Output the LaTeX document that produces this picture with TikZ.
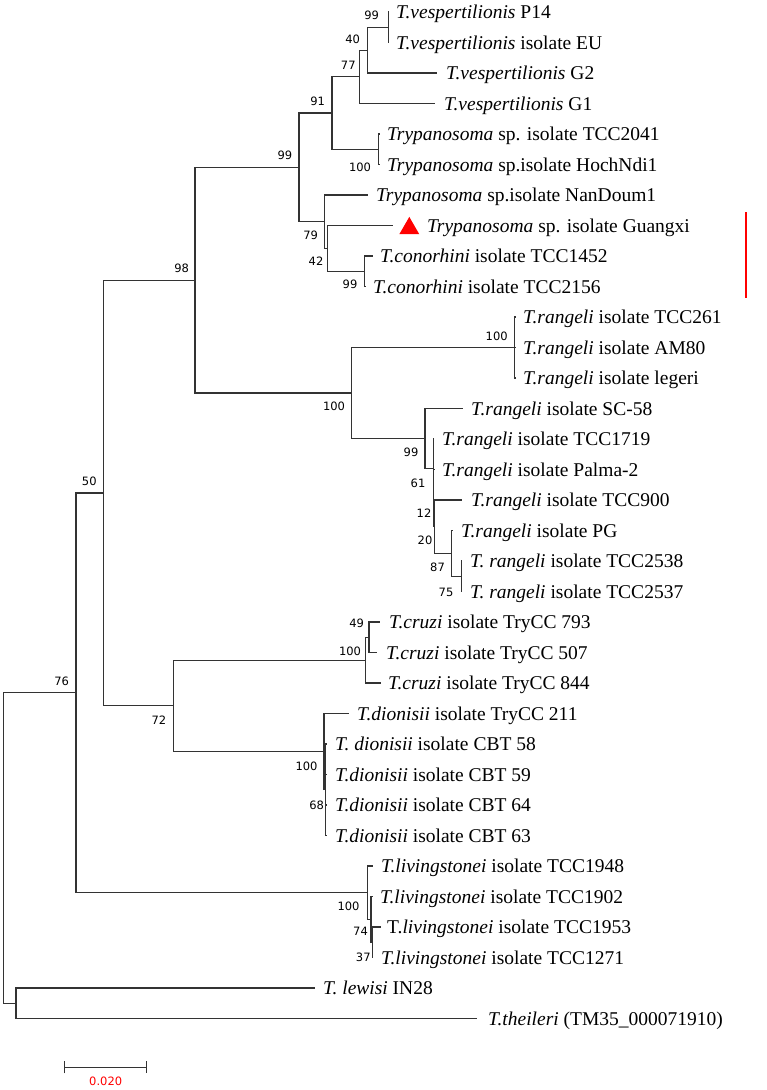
\documentclass[tikz,border=0pt]{standalone}
\usepackage{fontspec}
\setmainfont{Liberation Serif}
\newfontfamily\numfont{DejaVu Sans}
\usetikzlibrary{arrows.meta,shapes.geometric}
\begin{document}
\begin{tikzpicture}[x=1pt,y=-1pt,
  tree/.style={line width=1.2pt, draw=black!80},
  leafl/.style={anchor=base west, inner sep=0pt, yshift=-6.6pt, font=\fontsize{19.5}{22}\selectfont},
  bs/.style={inner sep=0pt, font=\numfont\fontsize{11.5}{13}\selectfont},
  redtri/.style={regular polygon, regular polygon sides=3, fill=red, draw=none, inner sep=0pt, minimum size=23pt}]
\useasboundingbox (0,0) rectangle (767,1090);
% ---- leaf ends ----
\coordinate (l1) at (389,12);
\coordinate (l2) at (389,42.5);
\coordinate (l3) at (436.7,73);
\coordinate (l4) at (435,103.5);
\coordinate (l5) at (380,134);
\coordinate (l6) at (380,164.5);
\coordinate (l7) at (368.3,195);
\coordinate (l8) at (393.3,225.5);
\coordinate (l9) at (372.7,256);
\coordinate (l10) at (365,286.5);
\coordinate (l11) at (515.5,317);
\coordinate (l12) at (515.5,347.5);
\coordinate (l13) at (515.5,378);
\coordinate (l14) at (463.3,408.5);
\coordinate (l15) at (434,439);
\coordinate (l16) at (434.3,469.5);
\coordinate (l17) at (461.7,500);
\coordinate (l18) at (452.5,530.5);
\coordinate (l19) at (462,561);
\coordinate (l20) at (462,591.5);
\coordinate (l21) at (380,622);
\coordinate (l22) at (376.7,652.5);
\coordinate (l23) at (381,683);
\coordinate (l24) at (349,713.5);
\coordinate (l25) at (326.5,744);
\coordinate (l26) at (326.5,774.5);
\coordinate (l27) at (326.5,805);
\coordinate (l28) at (326.5,835.5);
\coordinate (l29) at (373,866);
\coordinate (l30) at (373,896.5);
\coordinate (l31) at (381,927);
\coordinate (l32) at (373,957.5);
\coordinate (l33) at (315,988);
\coordinate (l34) at (476.7,1018.5);
% ---- internal nodes ----
\coordinate (n99a) at (388.3,27.25);
\coordinate (n40) at (367.3,50.13);
\coordinate (n77) at (359.3,76.81);
\coordinate (n100a) at (378.3,149.25);
\coordinate (n91) at (332,113.03);
\coordinate (n99c) at (364.5,271.25);
\coordinate (n42) at (327.3,248.38);
\coordinate (n79) at (324.3,221.69);
\coordinate (n99) at (299,167.36);
\coordinate (n100r) at (514.3,347.5);
\coordinate (n75) at (461.3,576.25);
\coordinate (n87) at (451.7,553.38);
\coordinate (n20) at (434.3,526.69);
\coordinate (n12) at (433.8,498.09);
\coordinate (n61) at (433.3,468.55);
\coordinate (n99d) at (425,438.52);
\coordinate (n100b) at (351.7,393.01);
\coordinate (n98) at (195,280.19);
\coordinate (n49) at (369,637.25);
\coordinate (n100c) at (365.7,660.13);
\coordinate (n68) at (325.7,789.75);
\coordinate (n100d) at (324,751.63);
\coordinate (n72) at (173.3,705.88);
\coordinate (n50) at (103.3,493.03);
\coordinate (n37) at (372.3,942.25);
\coordinate (n74) at (371,919.38);
\coordinate (n100e) at (367.7,892.69);
\coordinate (n76) at (76,692.86);
\coordinate (nlt) at (16,1003.25);
\coordinate (root) at (3.3,848.05);
% ---- branches ----
\draw[tree] (n99a) |- (l1);  \draw[tree] (n99a) |- (l2);
\draw[tree] (n40) |- (n99a); \draw[tree] (n40) |- (l3);
\draw[tree] (n77) |- (n40);  \draw[tree] (n77) |- (l4);
\draw[tree] (n100a) |- (l5); \draw[tree] (n100a) |- (l6);
\draw[tree] (n91) |- (n77);  \draw[tree] (n91) |- (n100a);
\draw[tree] (n99c) |- (l9);  \draw[tree] (n99c) |- (l10);
\draw[tree] (n42) |- (l8);   \draw[tree] (n42) |- (n99c);
\draw[tree] (n79) |- (l7);   \draw[tree] (n79) |- (n42);
\draw[tree] (n99) |- (n91);  \draw[tree] (n99) |- (n79);
\draw[tree] (n100r) |- (l11); \draw[tree] (n100r) |- (l12); \draw[tree] (n100r) |- (l13);
\draw[tree] (n75) |- (l19);  \draw[tree] (n75) |- (l20);
\draw[tree] (n87) |- (l18);  \draw[tree] (n87) |- (n75);
\draw[tree] (n20) |- (l17);  \draw[tree] (n20) |- (n87);
\draw[tree] (n12) |- (l16);  \draw[tree] (n12) |- (n20);
\draw[tree] (n61) |- (l15);  \draw[tree] (n61) |- (n12);
\draw[tree] (n99d) |- (l14); \draw[tree] (n99d) |- (n61);
\draw[tree] (n100b) |- (n100r); \draw[tree] (n100b) |- (n99d);
\draw[tree] (n98) |- (n99);  \draw[tree] (n98) |- (n100b);
\draw[tree] (n49) |- (l21);  \draw[tree] (n49) |- (l22);
\draw[tree] (n100c) |- (n49); \draw[tree] (n100c) |- (l23);
\draw[tree] (n68) |- (l25);  \draw[tree] (n68) |- (l26);
\draw[tree] (n68) |- (l27);  \draw[tree] (n68) |- (l28);
\draw[tree] (n100d) |- (l24); \draw[tree] (n100d) |- (n68);
\draw[tree] (n72) |- (n100c); \draw[tree] (n72) |- (n100d);
\draw[tree] (n50) |- (n98);  \draw[tree] (n50) |- (n72);
\draw[tree] (n37) |- (l31);  \draw[tree] (n37) |- (l32);
\draw[tree] (n74) |- (l30);  \draw[tree] (n74) |- (n37);
\draw[tree] (n100e) |- (l29); \draw[tree] (n100e) |- (n74);
\draw[tree] (n76) |- (n50);  \draw[tree] (n76) |- (n100e);
\draw[tree] (nlt) |- (l33);  \draw[tree] (nlt) |- (l34);
\draw[tree] (root) |- (n76); \draw[tree] (root) |- (nlt);
% ---- leaf labels ----
\node[leafl] (t1) at (396,12) {\textit{T.vespertilionis} P14};
\node[leafl] (t2) at (396,42.5) {\textit{T.vespertilionis} isolate EU};
\node[leafl] (t3) at (446,73) {\textit{T.vespertilionis} G2};
\node[leafl] (t4) at (444,103.5) {\textit{T.vespertilionis} G1};
\node[leafl] (t5) at (387,134) {\textit{Trypanosoma} sp. isolate TCC2041};
\node[leafl] (t6) at (387,164.5) {\textit{Trypanosoma} sp.isolate HochNdi1};
\node[leafl] (t7) at (376,195) {\textit{Trypanosoma} sp.isolate NanDoum1};
\node[redtri] (tri) at (409.3,228.4) {};
\node[leafl] (t8) at (427,225.5) {\textit{Trypanosoma} sp. isolate Guangxi};
\node[leafl] (t9) at (380,256) {\textit{T.conorhini} isolate TCC1452};
\node[leafl] (t10) at (373,286.5) {\textit{T.conorhini} isolate TCC2156};
\node[leafl] (t11) at (523,317) {\textit{T.rangeli} isolate TCC261};
\node[leafl] (t12) at (523,347.5) {\textit{T.rangeli} isolate AM80};
\node[leafl] (t13) at (523,378) {\textit{T.rangeli} isolate legeri};
\node[leafl] (t14) at (471,408.5) {\textit{T.rangeli} isolate SC-58};
\node[leafl] (t15) at (442,439) {\textit{T.rangeli} isolate TCC1719};
\node[leafl] (t16) at (442,469.5) {\textit{T.rangeli} isolate Palma-2};
\node[leafl] (t17) at (471,500) {\textit{T.rangeli} isolate TCC900};
\node[leafl] (t18) at (461,530.5) {\textit{T.rangeli} isolate PG};
\node[leafl] (t19) at (470,561) {\textit{T. rangeli} isolate TCC2538};
\node[leafl] (t20) at (470,591.5) {\textit{T. rangeli} isolate TCC2537};
\node[leafl] (t21) at (389,622) {\textit{T.cruzi} isolate TryCC 793};
\node[leafl] (t22) at (386,652.5) {\textit{T.cruzi} isolate TryCC 507};
\node[leafl] (t23) at (388,683) {\textit{T.cruzi} isolate TryCC 844};
\node[leafl] (t24) at (357,713.5) {\textit{T.dionisii} isolate TryCC 211};
\node[leafl] (t25) at (335,744) {\textit{T. dionisii} isolate CBT 58};
\node[leafl] (t26) at (335,774.5) {\textit{T.dionisii} isolate CBT 59};
\node[leafl] (t27) at (335,805) {\textit{T.dionisii} isolate CBT 64};
\node[leafl] (t28) at (335,835.5) {\textit{T.dionisii} isolate CBT 63};
\node[leafl] (t29) at (381,866) {\textit{T.livingstonei} isolate TCC1948};
\node[leafl] (t30) at (380,896.5) {\textit{T.livingstonei} isolate TCC1902};
\node[leafl] (t31) at (387,927) {T.\textit{livingstonei} isolate TCC1953};
\node[leafl] (t32) at (381,957.5) {\textit{T.livingstonei} isolate TCC1271};
\node[leafl] (t33) at (323,988) {\textit{T. lewisi} IN28};
\node[leafl] (t34) at (488,1018.5) {\textit{T.theileri} (TM35\_000071910)};
% ---- bootstrap values ----
\node[bs] (b99a) at (371.7,15) {99};
\node[bs] (b40) at (352.7,39.3) {40};
\node[bs] (b77) at (348.3,65) {77};
\node[bs] (b91) at (317.7,101) {91};
\node[bs] (b100a) at (360,167.3) {100};
\node[bs] (b99) at (285,155) {99};
\node[bs] (b79) at (310.7,235) {79};
\node[bs] (b42) at (316,261.7) {42};
\node[bs] (b99c) at (350,284) {99};
\node[bs] (b98) at (181.7,268.3) {98};
\node[bs] (b100b) at (334,406.7) {100};
\node[bs] (b100r) at (496.7,336.7) {100};
\node[bs] (b99d) at (411,452) {99};
\node[bs] (b61) at (418,483) {61};
\node[bs] (b12) at (424,513) {12};
\node[bs] (b20) at (425,540) {20};
\node[bs] (b87) at (437.5,567) {87};
\node[bs] (b75) at (446,592) {75};
\node[bs] (b50) at (89.3,481) {50};
\node[bs] (b76) at (61.7,681.7) {76};
\node[bs] (b72) at (159,720) {72};
\node[bs] (b49) at (356.7,623.3) {49};
\node[bs] (b100c) at (350,651.7) {100};
\node[bs] (b100d) at (306.5,766.7) {100};
\node[bs] (b68) at (316.7,805) {68};
\node[bs] (b100e) at (348.5,906.7) {100};
\node[bs] (b74) at (360.5,931.7) {74};
\node[bs] (b37) at (363.3,957) {37};
% ---- red marker bar ----
\coordinate (rb1) at (746,212);
\coordinate (rb2) at (746,298);
\draw[red, line width=1.5pt] (rb1) -- (rb2);
% ---- scale bar ----
\coordinate (sb1) at (64,1067.3);
\coordinate (sb2) at (147.3,1067.3);
\draw[tree, {Bar[width=12pt]}-{Bar[width=12pt]}] (sb1) -- (sb2);
\node[bs, text=red] (sbl) at (105.7,1081.7) {0.020};
\end{tikzpicture}
\end{document}
